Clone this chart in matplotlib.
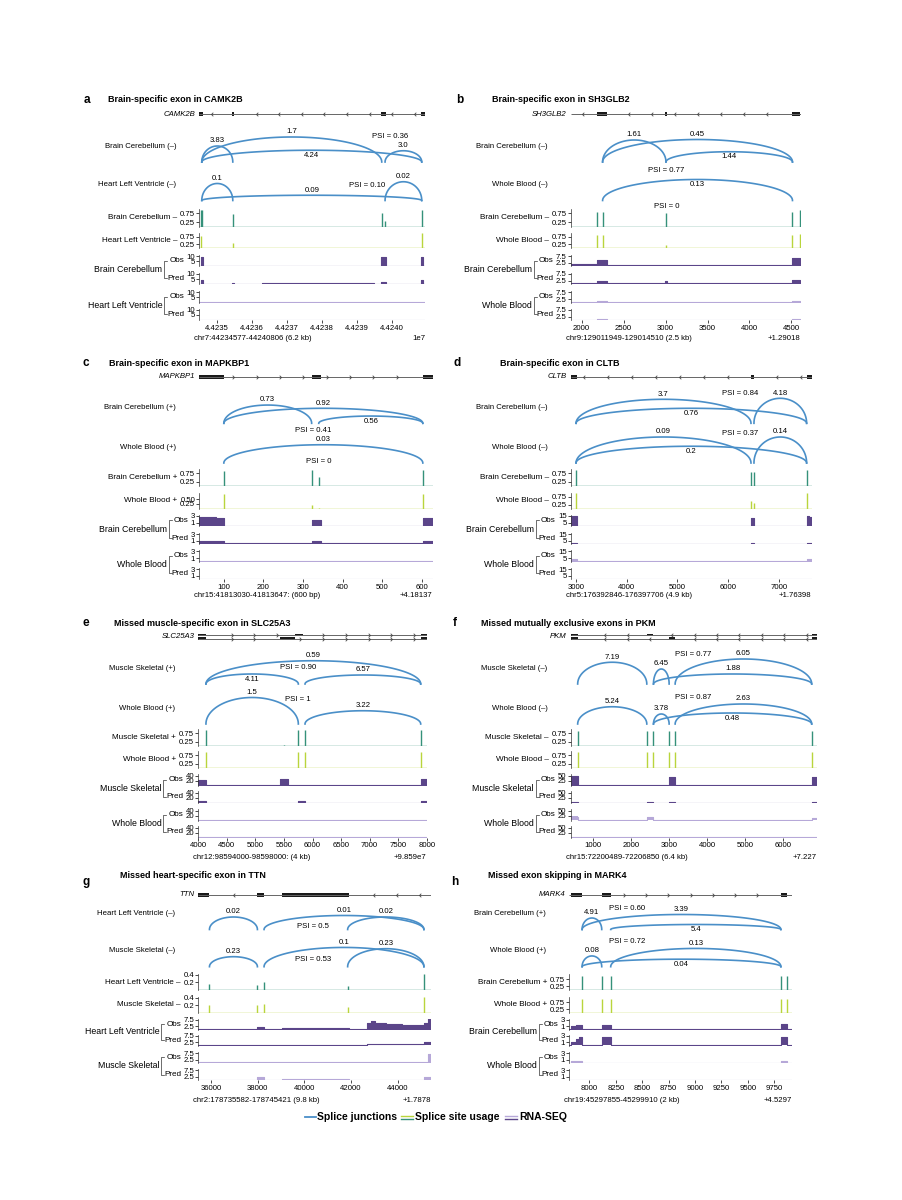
import numpy as np
import matplotlib
matplotlib.use("Agg")
import matplotlib.pyplot as plt
from matplotlib.path import Path
from matplotlib.lines import Line2D

plt.rcParams['font.family'] = ['Liberation Sans', 'DejaVu Sans']
plt.rcParams['font.size'] = 5.6
plt.rcParams['axes.linewidth'] = 0.5

# ---------------- data ----------------
# a: CAMK2B
A_TITLE = "Brain-specific exon in CAMK2B"
A_GENE, A_STRAND = "CAMK2B", "-"
A_TISSUES = ["Brain Cerebellum", "Heart Left Ventricle"]
A_XLIM = (44234500, 44240950)
A_XTICKS = [44235000, 44236000, 44237000, 44238000, 44239000, 44240000]
A_XTICKLABELS = ["4.4235", "4.4236", "4.4237", "4.4238", "4.4239", "4.4240"]
A_EXONS = [[(44234500, 44234600), (44235440, 44235500), (44239690, 44239830), (44240830, 44240950)]]
A_ARCS1 = [(44234571, 44239714, "1.7", 1.0, "above"), (44234571, 44235457, "3.83", 0.64, "above"),
           (44234571, 44240857, "4.24", 0.47, "below"), (44239809, 44240857, "3.0", 0.45, "above")]
A_ARCS2 = [(44234571, 44235457, "0.1", 0.68, "above"), (44234571, 44240857, "0.09", 0.21, "above"),
           (44239809, 44240857, "0.02", 0.75, "above")]
A_PSI = [("PSI = 0.36", 44239951, 1.04), ("PSI = 0.10", 44239286, 0.61)]
A_SITES1 = [(44234550, 0.95), (44234590, 0.95), (44235470, 0.71), (44239714, 0.75), (44239809, 0.31), (44240857, 0.95)]
A_SITES2 = [(44234560, 0.80), (44235470, 0.35), (44239714, 0.05), (44240857, 0.98)]
A_COV_BASE = [0.3, 0.4, 0.1, 0.05]
A_OBS1 = [(44234540, 44234600, 9.5), (44235440, 44235500, 0.7), (44239690, 44239830, 9.3), (44240830, 44240890, 9.5)]
A_PRED1 = [(44234540, 44234600, 4.5), (44235440, 44235500, 1.2), (44236300, 44239500, 0.7),
           (44239690, 44239830, 1.8), (44240830, 44240890, 4.0)]
A_OBS2 = [(44234540, 44234600, 0.8), (44240830, 44240890, 0.7)]
A_PRED2 = []
A_RNA_TICKS = [10, 5]
A_CHR, A_OFFSET = "chr7:44234577-44240806 (6.2 kb)", "1e7"

# b: SH3GLB2
B_TITLE = "Brain-specific exon in SH3GLB2"
B_GENE, B_STRAND = "SH3GLB2", "-"
B_TISSUES = ["Brain Cerebellum", "Whole Blood"]
B_XLIM = (1870, 4610)
B_XTICKS = [2000, 2500, 3000, 3500, 4000, 4500]
B_EXONS = [[(2179, 2300), (2990, 3015), (4512, 4607)]]
B_ARCS1 = [(2250, 3005, "1.61", 0.88, "above"), (2250, 4512, "0.45", 0.9, "above"), (3005, 4512, "1.44", 0.41, "below")]
B_ARCS2 = [(2250, 4512, "0.13", 0.84, "below")]
B_PSI = [("PSI = 0.77", 3012, -0.32), ("PSI = 0", 3012, -0.23)]
B_SITES1 = [(2179, 0.85), (2250, 0.85), (3005, 0.80), (4512, 0.85), (4607, 0.95)]
B_SITES2 = [(2179, 0.87), (2250, 0.87), (3005, 0.22), (4512, 0.87), (4607, 0.93)]
B_COV_BASE = [0.9, 0.9, 0.15, 0.05]
B_OBS1 = [(1870, 2179, 1.4), (2179, 2300, 5.0), (2995, 3015, 1.3), (4512, 4607, 6.2)]
B_PRED1 = [(2179, 2300, 2.0), (2995, 3015, 2.2), (4512, 4607, 3.0)]
B_OBS2 = [(2179, 2300, 1.5), (4512, 4607, 1.5)]
B_PRED2 = [(2179, 2300, 0.4), (4512, 4607, 0.6)]
B_RNA_TICKS = [7.5, 2.5]
B_CHR, B_OFFSET = "chr9:129011949-129014510 (2.5 kb)", "+1.29018"

# c: MAPKBP1
C_TITLE = "Brain-specific exon in MAPKBP1"
C_GENE, C_STRAND = "MAPKBP1", "+"
C_TISSUES = ["Brain Cerebellum", "Whole Blood"]
C_XLIM = (38, 628)
C_XTICKS = [100, 200, 300, 400, 500, 600]
C_EXONS = [[(38, 100), (322, 345), (603, 628)]]
C_ARCS1 = [(100, 322, "0.73", 0.73, "above"), (100, 603, "0.92", 0.6, "above"), (340, 603, "0.56", 0.29, "below")]
C_ARCS2 = [(100, 603, "0.03", 0.73, "above")]
C_PSI = [("PSI = 0.41", 326, -0.27), ("PSI = 0", 339, 0.06)]
C_SITES1 = [(100, 0.88), (322, 0.92), (340, 0.54), (603, 0.92)]
C_SITES2 = [(100, 0.77), (322, 0.18), (340, 0.03), (603, 0.77)]
C_COV_BASE = [0.1, 0.2, 0.05, 0.0]
C_OBS1 = [(38, 80, 2.8), (80, 100, 2.4), (322, 345, 1.9), (603, 628, 2.5)]
C_PRED1 = [(38, 100, 0.8), (322, 345, 1.0), (345, 480, 0.35), (603, 628, 0.9)]
C_OBS2 = []
C_PRED2 = []
C_RNA_TICKS = [3, 1]
C_CHR, C_OFFSET = "chr15:41813030-41813647: (600 bp)", "+4.18137"

# d: CLTB
D_TITLE = "Brain-specific exon in CLTB"
D_GENE, D_STRAND = "CLTB", "-"
D_TISSUES = ["Brain Cerebellum", "Whole Blood"]
D_XLIM = (2895, 7650)
D_XTICKS = [3000, 4000, 5000, 6000, 7000]
D_EXONS = [[(2895, 3010), (6452, 6511), (7550, 7650)]]
D_ARCS1 = [(3000, 6452, "3.7", 0.96, "above"), (3000, 7550, "0.76", 0.6, "below"), (6511, 7550, "4.18", 1.0, "above")]
D_ARCS2 = [(3000, 6452, "0.09", 1.04, "above"), (3000, 7550, "0.2", 0.67, "below"), (6511, 7550, "0.14", 1.04, "above")]
D_PSI = [("PSI = 0.84", 6235, 1.2), ("PSI = 0.37", 6235, 1.18)]
D_SITES1 = [(3000, 0.92), (6452, 0.82), (6511, 0.82), (7550, 0.92)]
D_SITES2 = [(3000, 0.94), (6452, 0.44), (6511, 0.34), (7550, 0.94)]
D_COV_BASE = [0.3, 0.3, 0.2, 0.05]
D_OBS1 = [(2895, 3010, 15), (6452, 6511, 12), (7550, 7600, 15), (7600, 7650, 13)]
D_PRED1 = [(2895, 3010, 2.0), (6452, 6511, 2.0), (7550, 7650, 2.0)]
D_OBS2 = [(2895, 3010, 4.5), (6452, 6511, 0.5), (7550, 7650, 4.3)]
D_PRED2 = [(7550, 7650, 0.5)]
D_RNA_TICKS = [15, 5]
D_CHR, D_OFFSET = "chr5:176392846-176397706 (4.9 kb)", "+1.76398"

# e: SLC25A3
E_TITLE = "Missed muscle-specific exon in SLC25A3"
E_GENE, E_STRAND = "SLC25A3", "+"
E_TISSUES = ["Muscle Skeletal", "Whole Blood"]
E_XLIM = (4000, 8000)
E_XTICKS = [4000, 4500, 5000, 5500, 6000, 6500, 7000, 7500, 8000]
E_EXONS = [[(4000, 4134), (5700, 5830), (7895, 8000)], [(4000, 4134), (5431, 5700), (7895, 8000)]]
E_ARCS1 = [(4134, 7895, "0.59", 0.93, "above"), (4134, 5752, "4.11", 0.4, "below"), (5869, 7895, "6.57", 0.36, "above")]
E_ARCS2 = [(4134, 5752, "1.5", 1.06, "above"), (5869, 7895, "3.22", 0.53, "above")]
E_PSI = [("PSI = 0.90", 5751, 0.67), ("PSI = 1", 5751, 0.97)]
E_SITES1 = [(4134, 0.92), (5500, 0.03), (5752, 0.92), (5869, 0.92), (7895, 0.92)]
E_SITES2 = [(4134, 0.92), (5752, 0.92), (5869, 0.92), (7895, 0.92)]
E_COV_BASE = [0.5, 0.5, 0.3, 0.1]
E_OBS1 = [(4000, 4134, 21), (5431, 5577, 25), (5752, 5869, 2), (7895, 8000, 28)]
E_PRED1 = [(4000, 4134, 7), (5752, 5869, 5), (7895, 8000, 8)]
E_OBS2 = [(4000, 4134, 1), (5752, 5869, 3), (7895, 8000, 3)]
E_PRED2 = [(4000, 4134, 0.8)]
E_RNA_TICKS = [40, 20]
E_CHR, E_OFFSET = "chr12:98594000-98598000: (4 kb)", "+9.859e7"

# f: PKM
F_TITLE = "Missed mutually exclusive exons in PKM"
F_GENE, F_STRAND = "PKM", "-"
F_TISSUES = ["Muscle Skeletal", "Whole Blood"]
F_XLIM = (423, 6876)
F_XTICKS = [1000, 2000, 3000, 4000, 5000, 6000]
F_EXONS = [[(423, 606), (2419, 2594), (6745, 6876)], [(423, 606), (3005, 3163), (6745, 6876)]]
F_ARCS1 = [(606, 2419, "7.19", 0.87, "above"), (2594, 3005, "6.45", 0.6, "above"),
           (3163, 6745, "6.05", 1.0, "above"), (2594, 6745, "1.88", 0.4, "above")]
F_ARCS2 = [(606, 2419, "5.24", 0.69, "above"), (2594, 3005, "3.78", 0.4, "above"),
           (3163, 6745, "2.63", 0.8, "above"), (2594, 6745, "0.48", 0.44, "below")]
F_PSI = [("PSI = 0.77", 3638, 1.2), ("PSI = 0.87", 3638, 1.07)]
F_SITES1 = [(606, 0.9), (2419, 0.9), (2594, 0.9), (3005, 0.9), (3163, 0.9), (6745, 0.9)]
F_SITES2 = [(606, 0.95), (2419, 0.95), (2594, 0.95), (3005, 0.95), (3163, 0.95), (6745, 0.95)]
F_COV_BASE = [0.8, 0.8, 2.0, 0.3]
F_OBS1 = [(423, 606, 48), (2419, 2594, 5), (3005, 3163, 45), (6745, 6876, 45)]
F_PRED1 = [(423, 606, 6), (2419, 2594, 6), (3005, 3163, 5), (6745, 6876, 6)]
F_OBS2 = [(423, 606, 20), (2419, 2594, 16), (3005, 3163, 4), (6745, 6876, 14)]
F_PRED2 = [(423, 606, 1.5), (6745, 6876, 1.5)]
F_RNA_TICKS = [50, 25]
F_CHR, F_OFFSET = "chr15:72200489-72206850 (6.4 kb)", "+7.227"

# g: TTN
G_TITLE = "Missed heart-specific exon in TTN"
G_GENE, G_STRAND = "TTN", "-"
G_TISSUES = ["Heart Left Ventricle", "Muscle Skeletal"]
G_XLIM = (35450, 45420)
G_XTICKS = [36000, 38000, 40000, 42000, 44000]
G_EXONS = [[(35450, 35929), (37986, 38271), (39057, 41914)]]
G_ARCS1 = [(35929, 37986, "0.02", 0.5, "above"), (38271, 45129, "0.01", 0.56, "above"), (41857, 45129, "0.02", 0.5, "above")]
G_ARCS2 = [(35929, 37986, "0.23", 0.4, "above"), (38271, 45129, "0.1", 0.77, "above"), (41857, 45129, "0.23", 0.72, "above")]
G_PSI = [("PSI = 0.5", 40385, 0.1), ("PSI = 0.53", 40385, 0.3)]
G_SITES1 = [(35929, 0.15), (37986, 0.12), (38271, 0.22), (41857, 0.1), (45129, 0.42)]
G_SITES2 = [(35929, 0.2), (37986, 0.2), (38271, 0.24), (41857, 0.15), (45129, 0.43)]
G_COV_BASE = [0.4, 0.3, 0.3, 0.3]
G_OBS1 = [(37986, 38271, 2.0), (39057, 41914, 1.3), (42700, 42850, 5.0), (42850, 43050, 7.0), (43050, 43500, 5.2),
          (43500, 44200, 4.5), (44200, 45129, 3.8), (45129, 45300, 5.0), (45300, 45420, 9.5)]
G_PRED1 = [(42700, 45129, 1.5), (45129, 45420, 2.8)]
G_OBS2 = [(42700, 45000, 0.9), (45300, 45420, 7.0)]
G_PRED2 = [(37986, 38271, 2.0), (39057, 41914, 0.6), (45129, 45420, 2.5)]
G_RNA_TICKS = [7.5, 2.5]
G_CHR, G_OFFSET = "chr2:178735582-178745421 (9.8 kb)", "+1.7878"

# h: MARK4
H_TITLE = "Missed exon skipping in MARK4"
H_GENE, H_STRAND = "MARK4", "+"
H_TISSUES = ["Brain Cerebellum", "Whole Blood"]
H_XLIM = (7810, 9915)
H_XTICKS = [8000, 8250, 8500, 8750, 9000, 9250, 9500, 9750]
H_EXONS = [[(7830, 7931), (8117, 8202), (9813, 9867)]]
H_ARCS1 = [(7931, 8117, "4.91", 0.46, "above"), (7931, 9813, "3.39", 0.6, "above"), (8202, 9813, "5.4", 0.2, "below")]
H_ARCS2 = [(7931, 8117, "0.08", 0.43, "above"), (8202, 9813, "0.13", 0.73, "above"), (7931, 9813, "0.04", 0.3, "below")]
H_PSI = [("PSI = 0.60", 8354, 0.84), ("PSI = 0.72", 8354, 1.0)]
H_SITES1 = [(7931, 0.98), (8117, 0.98), (8202, 0.98), (9813, 0.98), (9867, 0.98)]
H_SITES2 = [(7931, 0.95), (8117, 0.95), (8202, 0.95), (9813, 0.95), (9867, 0.95)]
H_COV_BASE = [0.1, 0.25, 0.05, 0.0]
H_OBS1 = [(7830, 7870, 1.0), (7870, 7931, 1.4), (8117, 8202, 1.4), (9813, 9867, 1.6)]
H_PRED1 = [(7830, 7870, 1.2), (7870, 7900, 2.0), (7900, 7931, 2.6), (8117, 8202, 2.7), (9813, 9867, 2.7)]
H_OBS2 = [(7830, 7931, 0.5), (9813, 9867, 0.6)]
H_PRED2 = [(9813, 9867, 0.15)]
H_RNA_TICKS = [3, 1]
H_CHR, H_OFFSET = "chr19:45297855-45299910 (2 kb)", "+4.5297"

LEGEND_LABELS = ["Splice junctions", "Splice site usage", "RNA-SEQ"]

# ---------------- layout / style ----------------
W, H = 903, 1200
FS = 5.6
ARC_COLOR = '#4a8fc8'
SITE_COLORS = ['#35917a', '#b9d53c']
RNA_COLORS = ['#5b4589', '#b6a8d8']
T = np.linspace(0, np.pi, 120)

ROWS = [
    dict(letter=100, title=100, gene=114, base=(162, 200.5), splice=((209, 226.5), (233, 248.3)),
         rna=(266.3, 284, 302.5, 320), rna_h=11.5, chr=338),
    dict(letter=363, title=363, gene=377, base=(423.3, 463), splice=((469, 486), (492.5, 508.5)),
         rna=(526, 544, 561.5, 579), rna_h=11.5, chr=596),
    dict(letter=623, title=623, gene=636.7, base=(684, 724), splice=((729, 746), (751, 768)),
         rna=(785.6, 802.7, 820.5, 837.5), rna_h=11.5, chr=857.5),
    dict(letter=882, title=876, gene=895, base=(929.5, 966.7), splice=((974, 990), (997, 1013)),
         rna=(1029.5, 1045.5, 1062.7, 1080), rna_h=11, chr=1100),
]

SPLICE_SET = {
    'normal': ((0, 1.0), [0.75, 0.25], ["0.75", "0.25"]),
    'half': ((0, 0.85), [0.50, 0.25], ["0.50", "0.25"]),
    'small': ((0, 0.42), [0.4, 0.2], ["0.4", "0.2"]),
    'tall': ((0, 1.1), [0.75, 0.25], ["0.75", "0.25"]),
}


def fmt_tick(v):
    return ("%g" % v)


PANELS = [
    dict(letter='a', row=0, xpx=(199.3, 425.0), letter_x=87, title_x=108, title=A_TITLE, gene=A_GENE,
         strand=A_STRAND, tissues=A_TISSUES, xlim=A_XLIM, xticks=A_XTICKS, xticklabels=A_XTICKLABELS,
         exons=A_EXONS, arcs=[A_ARCS1, A_ARCS2], psi=A_PSI, sites=[A_SITES1, A_SITES2],
         splice=['normal', 'normal'], cov_base=A_COV_BASE, cov=[A_OBS1, A_PRED1, A_OBS2, A_PRED2],
         rna_ticks=A_RNA_TICKS, chr=A_CHR, offset=A_OFFSET),
    dict(letter='b', row=0, xpx=(570.7, 800.7), letter_x=460, title_x=492, title=B_TITLE, gene=B_GENE,
         strand=B_STRAND, tissues=B_TISSUES, xlim=B_XLIM, xticks=B_XTICKS, xticklabels=None,
         exons=B_EXONS, arcs=[B_ARCS1, B_ARCS2], psi=B_PSI, sites=[B_SITES1, B_SITES2],
         splice=['normal', 'normal'], cov_base=B_COV_BASE, cov=[B_OBS1, B_PRED1, B_OBS2, B_PRED2],
         rna_ticks=B_RNA_TICKS, chr=B_CHR, offset=B_OFFSET),
    dict(letter='c', row=1, xpx=(199.3, 432.7), letter_x=86, title_x=109, title=C_TITLE, gene=C_GENE,
         strand=C_STRAND, tissues=C_TISSUES, xlim=C_XLIM, xticks=C_XTICKS, xticklabels=None,
         exons=C_EXONS, arcs=[C_ARCS1, C_ARCS2], psi=C_PSI, sites=[C_SITES1, C_SITES2],
         splice=['normal', 'half'], cov_base=C_COV_BASE, cov=[C_OBS1, C_PRED1, C_OBS2, C_PRED2],
         rna_ticks=C_RNA_TICKS, chr=C_CHR, offset=C_OFFSET),
    dict(letter='d', row=1, xpx=(570.7, 811.7), letter_x=457, title_x=500, title=D_TITLE, gene=D_GENE,
         strand=D_STRAND, tissues=D_TISSUES, xlim=D_XLIM, xticks=D_XTICKS, xticklabels=None,
         exons=D_EXONS, arcs=[D_ARCS1, D_ARCS2], psi=D_PSI, sites=[D_SITES1, D_SITES2],
         splice=['normal', 'normal'], cov_base=D_COV_BASE, cov=[D_OBS1, D_PRED1, D_OBS2, D_PRED2],
         rna_ticks=D_RNA_TICKS, chr=D_CHR, offset=D_OFFSET),
    dict(letter='e', row=2, xpx=(198.3, 426.7), letter_x=86, title_x=114, title=E_TITLE, gene=E_GENE,
         strand=E_STRAND, tissues=E_TISSUES, xlim=E_XLIM, xticks=E_XTICKS, xticklabels=None,
         exons=E_EXONS, arcs=[E_ARCS1, E_ARCS2], psi=E_PSI, sites=[E_SITES1, E_SITES2],
         splice=['normal', 'normal'], cov_base=E_COV_BASE, cov=[E_OBS1, E_PRED1, E_OBS2, E_PRED2],
         rna_ticks=E_RNA_TICKS, chr=E_CHR, offset=E_OFFSET),
    dict(letter='f', row=2, xpx=(570.7, 816.7), letter_x=455, title_x=481, title=F_TITLE, gene=F_GENE,
         strand=F_STRAND, tissues=F_TISSUES, xlim=F_XLIM, xticks=F_XTICKS, xticklabels=None,
         exons=F_EXONS, arcs=[F_ARCS1, F_ARCS2], psi=F_PSI, sites=[F_SITES1, F_SITES2],
         splice=['normal', 'normal'], cov_base=F_COV_BASE, cov=[F_OBS1, F_PRED1, F_OBS2, F_PRED2],
         rna_ticks=F_RNA_TICKS, chr=F_CHR, offset=F_OFFSET),
    dict(letter='g', row=3, xpx=(198.3, 430.7), letter_x=86, title_x=120, title=G_TITLE, gene=G_GENE,
         strand=G_STRAND, tissues=G_TISSUES, xlim=G_XLIM, xticks=G_XTICKS, xticklabels=None,
         exons=G_EXONS, arcs=[G_ARCS1, G_ARCS2], psi=G_PSI, sites=[G_SITES1, G_SITES2],
         splice=['small', 'small'], cov_base=G_COV_BASE, cov=[G_OBS1, G_PRED1, G_OBS2, G_PRED2],
         rna_ticks=G_RNA_TICKS, chr=G_CHR, offset=G_OFFSET),
    dict(letter='h', row=3, xpx=(569.3, 791.7), letter_x=455, title_x=488, title=H_TITLE, gene=H_GENE,
         strand=H_STRAND, tissues=H_TISSUES, xlim=H_XLIM, xticks=H_XTICKS, xticklabels=None,
         exons=H_EXONS, arcs=[H_ARCS1, H_ARCS2], psi=H_PSI, sites=[H_SITES1, H_SITES2],
         splice=['tall', 'tall'], cov_base=H_COV_BASE, cov=[H_OBS1, H_PRED1, H_OBS2, H_PRED2],
         rna_ticks=H_RNA_TICKS, chr=H_CHR, offset=H_OFFSET),
]


def rect(x0, x1, ytop, ybot):
    return [x0 / W, 1 - ybot / H, (x1 - x0) / W, (ybot - ytop) / H]


def fy(y):
    return 1 - y / H


def coverage_steps(segs, base, x0, x1):
    edges = sorted({x0, x1} | {max(x0, min(x1, v)) for s in segs for v in s[:2]})
    ys = []
    for a in edges[:-1]:
        v = base
        for s, e, h in segs:
            if s <= a < e:
                v = h
        ys.append(v)
    ys.append(ys[-1])
    return edges, ys


def style_track(ax, ticks, labels):
    for sp in ['top', 'right', 'bottom']:
        ax.spines[sp].set_visible(False)
    ax.spines['left'].set_linewidth(0.5)
    ax.spines['left'].set_color('#333333')
    ax.set_yticks(ticks)
    ax.set_yticklabels(labels)
    ax.tick_params(axis='y', length=2, width=0.5, pad=1, labelsize=FS)
    ax.set_xticks([])


fig = plt.figure(figsize=(W / 100, H / 100), dpi=100)
brackets = []

for p in PANELS:
    row = ROWS[p['row']]
    x0, x1 = p['xpx']
    strand_txt = '\u2013' if p['strand'] == '-' else '+'

    fig.text(p['letter_x'] / W, fy(row['letter']), p['letter'], weight='bold', fontsize=8.5,
             ha='center', va='center')
    fig.text(p['title_x'] / W, fy(row['title']), p['title'], weight='bold', fontsize=6.5,
             ha='left', va='center')

    # gene model
    gy = row['gene']
    ax = fig.add_axes(rect(x0, x1, gy - 6, gy + 6))
    ax.set_xlim(p['xlim'])
    ax.set_ylim(-1, 1)
    ax.axis('off')
    n_tx = len(p['exons'])
    offs = [0.0] if n_tx == 1 else [0.3, -0.3]
    half = 0.35 if n_tx == 1 else 0.2
    if p['strand'] == '-':
        chev = Path([(1, 1), (0, 0), (1, -1)], [Path.MOVETO, Path.LINETO, Path.LINETO])
    else:
        chev = Path([(-1, 1), (0, 0), (-1, -1)], [Path.MOVETO, Path.LINETO, Path.LINETO])
    span = p['xlim'][1] - p['xlim'][0]
    n_chev = int((x1 - x0) / 22)
    step = span / n_chev
    for off, exons in zip(offs, p['exons']):
        ax.plot(p['xlim'], [off, off], color='#666666', lw=0.7, solid_capstyle='butt')
        for s, e in exons:
            ax.fill_between([s, e], off - half, off + half, color='#1a1a1a', lw=0)
        xs = [p['xlim'][0] + step * (i + 0.5) for i in range(n_chev)]
        xs = [x for x in xs if not any(s - step * 0.2 <= x <= e + step * 0.2 for s, e in exons)]
        ax.plot(xs, [off] * len(xs), ls='none', marker=chev, ms=2.6, mfc='none', mec='#444444', mew=0.6)
    fig.text((x0 - 4) / W, fy(gy), p['gene'], style='italic', ha='right', va='center', fontsize=FS)

    # splice junction arcs
    for k in range(2):
        base = row['base'][k]
        ax = fig.add_axes(rect(x0, x1, base - 40, base))
        ax.set_xlim(p['xlim'])
        ax.set_ylim(0, 1.6)
        ax.axis('off')
        for s, e, lab, h, side in p['arcs'][k]:
            c, r = (s + e) / 2, (e - s) / 2
            ax.plot(c + r * np.cos(T), h * np.sin(T), color=ARC_COLOR, lw=1.2, clip_on=False)
            above = side == 'above'
            ax.annotate(lab, (c, h), xytext=(0, 1.2 if above else -1.2), textcoords='offset points',
                        ha='center', va='bottom' if above else 'top', fontsize=FS, annotation_clip=False)
        txt, px, py = p['psi'][k]
        ax.text(px, py, txt, ha='center', va='center', fontsize=FS, clip_on=False)
        fig.text((x0 - 23) / W, fy(base - 16), "%s (%s)" % (p['tissues'][k], strand_txt),
                 ha='right', va='center', fontsize=FS)

    # splice site usage
    for k in range(2):
        top, bot = row['splice'][k]
        ylim, ticks, labels = SPLICE_SET[p['splice'][k]]
        ax = fig.add_axes(rect(x0, x1, top, bot))
        col = SITE_COLORS[k]
        pos = [s for s, _ in p['sites'][k]]
        hs = [h for _, h in p['sites'][k]]
        ax.vlines(pos, 0, hs, color=col, lw=1.0)
        ax.axhline(0, color=col, lw=1.0)
        ax.set_xlim(p['xlim'])
        ax.set_ylim(*ylim)
        style_track(ax, ticks, labels)
        ax.set_ylabel("%s %s" % (p['tissues'][k], strand_txt), rotation=0, ha='right', va='center',
                      labelpad=2, fontsize=5.9)

    # RNA-seq coverage
    rna_axes = []
    for k in range(4):
        bot = row['rna'][k]
        ax = fig.add_axes(rect(x0, x1, bot - row['rna_h'], bot))
        col = RNA_COLORS[k // 2]
        xs, ys = coverage_steps(p['cov'][k], p['cov_base'][k], *p['xlim'])
        ax.fill_between(xs, 0, ys, step='post', color=col, lw=0)
        ax.step(xs, ys, where='post', color=col, lw=0.8)
        ax.set_xlim(p['xlim'])
        ax.set_ylim(0, p['rna_ticks'][0] * 1.15)
        style_track(ax, p['rna_ticks'], [fmt_tick(v) for v in p['rna_ticks']])
        ax.set_ylabel('Obs' if k % 2 == 0 else 'Pred', rotation=0, ha='right', va='center',
                      labelpad=1.5, fontsize=5.9)
        rna_axes.append(ax)
    last = rna_axes[-1]
    last.set_xticks(p['xticks'])
    last.set_xticklabels(p['xticklabels'] if p['xticklabels'] else [str(v) for v in p['xticks']])
    last.tick_params(axis='x', length=2, width=0.5, pad=1.5, labelsize=FS)
    brackets.append((rna_axes[0], rna_axes[1], p['tissues'][0]))
    brackets.append((rna_axes[2], rna_axes[3], p['tissues'][1]))

    fig.text((x0 - 5) / W, fy(row['chr']), p['chr'], ha='left', va='center', fontsize=FS)
    fig.text(x1 / W, fy(row['chr']), p['offset'], ha='right', va='center', fontsize=FS)

# legend
ly = 1117
fig.add_artist(Line2D([305 / W, 316 / W], [fy(ly), fy(ly)], color=ARC_COLOR, lw=1.3))
fig.text(317 / W, fy(ly), LEGEND_LABELS[0], weight='bold', fontsize=7.5, ha='left', va='center')
fig.add_artist(Line2D([401 / W, 413 / W], [fy(ly - 1.5), fy(ly - 1.5)], color=SITE_COLORS[1], lw=1.0))
fig.add_artist(Line2D([401 / W, 413 / W], [fy(ly + 1.5), fy(ly + 1.5)], color=SITE_COLORS[0], lw=1.0))
fig.text(415 / W, fy(ly), LEGEND_LABELS[1], weight='bold', fontsize=7.5, ha='left', va='center')
fig.add_artist(Line2D([505 / W, 517 / W], [fy(ly - 1.5), fy(ly - 1.5)], color=RNA_COLORS[1], lw=1.0))
fig.add_artist(Line2D([505 / W, 517 / W], [fy(ly + 1.5), fy(ly + 1.5)], color=RNA_COLORS[0], lw=1.0))
fig.text(519 / W, fy(ly), LEGEND_LABELS[2], weight='bold', fontsize=7.5, ha='left', va='center')

# brackets joining Obs / Pred labels
fig.canvas.draw()
renderer = fig.canvas.get_renderer()
for ax_o, ax_p, tissue in brackets:
    bo = ax_o.yaxis.label.get_window_extent(renderer)
    bp = ax_p.yaxis.label.get_window_extent(renderer)
    xb = min(bo.x0, bp.x0) - 3
    yt = (bo.y0 + bo.y1) / 2
    yb = (bp.y0 + bp.y1) / 2
    fw, fh = fig.bbox.width, fig.bbox.height
    fig.add_artist(Line2D([(xb + 3) / fw, xb / fw, xb / fw, (xb + 3) / fw],
                          [yt / fh, yt / fh, yb / fh, yb / fh], color='#333333', lw=0.5))
    fig.text((xb - 2) / fw, ((yt + yb) / 2) / fh, tissue, ha='right', va='center', fontsize=6.3)

fig.savefig('out.png', dpi=100)
